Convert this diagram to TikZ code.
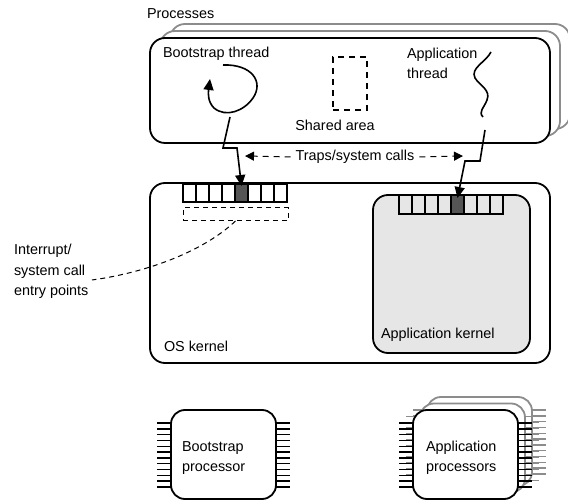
\documentclass[tikz,border=0pt]{standalone}
\usepackage{fontspec}
\setmainfont{Liberation Sans}
\usetikzlibrary{arrows.meta}
\definecolor{backgray}{RGB}{140,140,140}
\definecolor{kernfill}{RGB}{230,230,230}
\definecolor{darkcell}{RGB}{85,85,85}
\begin{document}
\begin{tikzpicture}[x=1pt,y=-1pt,
  every node/.style={font=\fontsize{14.4}{20.5}\selectfont, inner sep=0pt, outer sep=0pt},
  lbl/.style={anchor=base west, align=left},
  bigbox/.style={draw, line width=1.8pt, rounded corners=15pt, fill=white},
  backbox/.style={bigbox, draw=backgray},
  cell/.style={draw, line width=1.4pt, minimum width=13pt, minimum height=18pt, anchor=north west, fill=white},
  arr/.style={line width=1.6pt, -{Triangle[length=11pt,width=10pt]}},
  trap/.style={line width=1pt, dash pattern=on 6pt off 5pt, -{Triangle[length=9pt,width=9pt]}},
  thindash/.style={line width=1pt, dash pattern=on 5pt off 4pt},
  thickdash/.style={line width=2pt, dash pattern=on 6pt off 5pt},
  pin/.style={line width=1.5pt},
  chip/.pic={
    \foreach \k in {0,...,11} {
      \draw[pin] (-14,{13+\k*5.82}) -- (0,{13+\k*5.82});
      \draw[pin] (105,{13+\k*5.82}) -- (119,{13+\k*5.82});
    }
    \draw[line width=1.8pt, rounded corners=14pt, fill=white] (0,0) rectangle (105,89);
  }
]
\useasboundingbox (0,0) rectangle (568,502);

% Processes stack
\node[lbl] (proclbl) at (147,19) {Processes};
\node[backbox, minimum width=400pt, minimum height=105pt] (proc3) at (370,76.5) {};
\node[backbox, minimum width=400pt, minimum height=105pt] (proc2) at (360,83.5) {};
\node[bigbox, minimum width=400pt, minimum height=105pt] (proc) at (350,90.5) {};

\node[lbl] (bsthread) at (163,58) {Bootstrap thread};
\node[lbl] (apthread) at (407,79) {Application\\thread};
\node[thickdash, draw, minimum width=34pt, minimum height=53pt] (shared) at (350,83.5) {};
\node[anchor=base] (sharedlbl) at (335,131) {Shared area};

% bootstrap thread loop
\coordinate (loopstart) at (223,65);
\coordinate (looptip) at (210,79);
\draw[arr] (loopstart) .. controls (252,64) and (264,82) .. (253,98)
  .. controls (244,111) and (226,118) .. (214,108)
  .. controls (208,102) and (208,94) .. (looptip);

% application thread squiggle
\coordinate (sqstart) at (491,52);
\coordinate (sqend) at (483,117);
\draw[line width=1.6pt] (sqstart) .. controls (486,62) and (470,68) .. (475,78)
  .. controls (480,86) and (491,90) .. (487,100)
  .. controls (484,108) and (478,112) .. (sqend);

% OS kernel
\node[bigbox, minimum width=400pt, minimum height=180pt] (os) at (350,273) {};
\node[lbl] (oslbl) at (164,352) {OS kernel};
\foreach \i in {0,...,7} \node[cell] (oc\i) at ({183+13*\i},184) {};
\node[cell, fill=darkcell] at (oc4.north west) {};
\node[thindash, draw, minimum width=105pt, minimum height=13pt, anchor=north west] (entry) at (183,208) {};

% Application kernel
\node[bigbox, fill=kernfill, minimum width=157pt, minimum height=158pt] (ak) at (451.5,274) {};
\node[lbl] (aklbl) at (381,339) {Application kernel};
\foreach \i in {0,...,7} \node[cell, fill=kernfill, minimum height=19pt] (ac\i) at ({399+13*\i},195) {};
\node[cell, fill=darkcell, minimum height=19pt] at (ac4.north west) {};

% Interrupt label and curve
\node[lbl] (intlbl) at (14,296) {Interrupt/\\system call\\entry points};
\coordinate (intend) at (92,280);
\draw[thindash] (entry.south) .. controls (205,250) and (150,272) .. (intend);

% traps
\coordinate (bsfrom) at (230,117);
\draw[arr] (bsfrom) -- (223,148) -- (237,148) -- ([yshift=-2pt]oc4.north);
\coordinate (apfrom) at (485,130);
\draw[arr] (apfrom) -- (480,161) -- (465,161) -- ([yshift=-3pt]ac4.north);
\node (traps) at (355,157) {Traps/system calls};
\coordinate (trapL) at (245,156);
\coordinate (trapR) at (463,156);
\draw[trap] ([xshift=-5pt]traps.west) -- (trapL);
\draw[trap] ([xshift=5pt]traps.east) -- (trapR);

% processors
\pic[color=black] at (171,410) {chip};
\node[lbl] (bplbl) at (182,472) {Bootstrap\\processor};
\pic[color=backgray] at (427,397) {chip};
\pic[color=backgray] at (420,403.5) {chip};
\pic[color=black] at (413,410) {chip};
\node[lbl] (aplbl) at (426,472) {Application\\processors};
\end{tikzpicture}
\end{document}
